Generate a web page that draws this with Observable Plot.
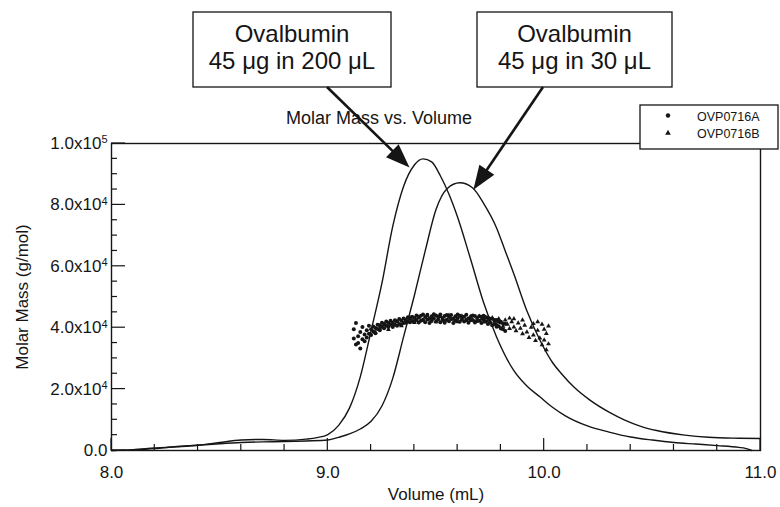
<!DOCTYPE html>
<html><head><meta charset="utf-8">
<script src="https://cdn.jsdelivr.net/npm/d3@7"></script>
<script src="https://cdn.jsdelivr.net/npm/@observablehq/plot@0.6"></script>
<style>
html,body{margin:0;padding:0;background:#fff;}
#chart{width:780px;height:507px;}
</style></head><body><div id="chart"></div>
<script>
// ---------- tick values ----------
const volumeTicks = [8, 9, 10, 11];
const volumeMinorTicks = [8.2, 8.4, 8.6, 8.8, 9.2, 9.4, 9.6, 9.8, 10.2, 10.4, 10.6, 10.8];
const massTicks = [0, 20000, 40000, 60000, 80000, 100000];
const massMinorTicks = [5000, 10000, 15000, 25000, 30000, 35000, 45000, 50000, 55000, 65000, 70000, 75000, 85000, 90000, 95000];

// ---------- signal traces (scaled to molar-mass axis) ----------
// Ovalbumin 45 µg in 200 µL (left peak)
const traceA_vol  = [8.00, 8.10, 8.20, 8.30, 8.40, 8.50, 8.60, 8.70, 8.80, 8.90, 8.95, 9.00, 9.05, 9.10, 9.15, 9.20, 9.25, 9.30, 9.35, 9.40, 9.44, 9.48, 9.52, 9.56, 9.60, 9.66, 9.72, 9.78, 9.86, 9.92, 9.98, 10.04, 10.10, 10.20, 10.30, 10.40, 10.50, 10.60, 10.70, 10.80, 10.90, 10.93, 10.96];
const traceA_mass = [0, 300, 800, 1200, 1700, 2600, 3400, 3600, 3300, 3700, 4200, 5200, 8200, 13800, 24000, 39000, 54500, 73000, 86000, 93000, 95000, 94000, 89500, 83500, 76000, 62300, 48200, 37000, 26000, 21000, 17500, 14000, 11200, 8000, 6000, 4400, 3400, 2600, 2100, 1600, 1000, 700, 0];
// Ovalbumin 45 µg in 30 µL (right peak)
const traceB_vol  = [8.00, 8.10, 8.20, 8.30, 8.40, 8.50, 8.60, 8.70, 8.80, 8.90, 9.00, 9.05, 9.10, 9.15, 9.20, 9.25, 9.30, 9.35, 9.40, 9.45, 9.50, 9.55, 9.61, 9.67, 9.72, 9.78, 9.82, 9.86, 9.92, 9.98, 10.04, 10.08, 10.14, 10.21, 10.30, 10.37, 10.45, 10.52, 10.65, 10.76, 10.90, 11.00];
const traceB_mass = [0, 200, 600, 1300, 1700, 2200, 2600, 2800, 2900, 3100, 3400, 4300, 5400, 7000, 9500, 14500, 23500, 37000, 50500, 65000, 78500, 85200, 87200, 85500, 80500, 72500, 65000, 57500, 45500, 36000, 28500, 25000, 20500, 16500, 12500, 10000, 7800, 6500, 5000, 4300, 4000, 3900];

// ---------- molar mass points ----------
const pointsA_vol = [9.12,9.12,9.13,9.13,9.14,9.14,9.15,9.15,9.16,9.16,9.17,9.17,9.18,9.18,9.19,9.19,9.20,9.20,9.21,9.21,9.22,9.22,9.23,9.23,9.24,9.24,9.25,9.25,9.26,9.26,9.27,9.27,9.28,9.28,9.29,9.29,
  9.30,9.30,9.31,9.31,9.32,9.32,9.33,9.33,9.34,9.34,9.35,9.35,9.36,9.36,9.37,9.37,9.38,9.38,9.39,9.39,9.40,9.40,
  9.41,9.41,9.42,9.42,9.43,9.43,9.44,9.44,9.45,9.45,9.46,9.46,9.47,9.47,9.48,9.48,9.49,9.49,9.50,9.50,9.51,9.51,9.52,9.52,9.53,9.53,9.54,9.54,9.55,9.55,9.56,9.56,9.57,9.57,9.58,9.58,9.59,9.59,9.60,9.60,9.61,9.61,
  9.62,9.62,9.63,9.63,9.64,9.64,9.65,9.65,9.66,9.66,9.67,9.67,9.68,9.68,9.69,9.69,9.70,9.70,9.71,9.71,9.72,9.72,9.73,9.73,9.74,9.74,9.75,9.75,9.76,9.76,9.77,9.77,9.78,9.78,9.79,9.79,9.80,9.80,9.81,9.81,9.82,9.82];
const pointsA_mass = [36500,39500,34500,41500,37200,35000,38600,33200,36200,40200,37800,35600,39200,36800,38000,40600,37600,39500,38800,40400,39900,38200,39600,41000,40800,39200,40300,41600,41200,39800,40600,42000,41500,40200,41000,42300,
  41600,40200,41000,42400,42000,40600,41200,42800,42300,41000,41500,43000,42600,41600,41900,43400,42900,41800,42200,43600,43200,42000,
  42500,44000,43300,41700,43900,42300,42600,44300,43500,41800,44200,42700,42900,41500,43700,42200,43100,44400,44000,42000,42700,43600,44300,41800,43200,42500,43800,41600,42600,44100,43500,42100,44100,42800,42900,41500,43700,42300,43100,44300,43900,41900,
  42700,43400,43600,42000,44200,42600,43000,41600,43500,42400,42500,44000,43800,41700,43200,42200,42300,43700,43600,41500,42800,43900,42100,43300,43300,41200,41700,42900,42900,40800,41200,42500,42500,40300,40500,41900,41900,39700,39500,41300,41300,38900];
const pointsB_vol = [9.22,9.24,9.26,9.28,9.30,9.32,9.34,9.36,9.38,9.40,9.42,9.44,9.46,9.48,9.50,9.52,9.54,9.56,9.58,9.60,9.62,9.64,9.66,9.68,9.70,9.71,9.72,9.73,9.74,9.75,9.76,9.77,9.78,9.79,9.80,9.81,9.82,9.83,9.84,9.85,9.86,9.87,9.88,9.89,9.90,9.91,9.92,9.93,9.94,9.95,9.96,9.97,9.98,9.99,10.00,10.00,10.01,10.01,10.02,10.02,9.95,9.97,9.99,9.90,9.86,9.84];
const pointsB_mass = [38500,39800,40900,39400,41200,42000,40600,42200,43200,41700,43400,42400,43900,42800,41900,43600,42200,44000,42800,41900,43800,42300,43600,42000,43700,42700,41800,43400,42400,41600,43200,42100,41000,42900,41600,40400,42500,41100,39700,41900,40200,39000,41500,39800,38000,40800,38600,36800,40100,37600,35800,39100,36600,34400,39500,36000,32800,38100,34700,40500,41300,41900,41100,42500,42900,43100];

const legendNames = ["OVP0716A", "OVP0716B"];
const calloutTitle = "Ovalbumin";
const calloutLines = ["45 \u03BCg in 200 \u03BCL", "45 \u03BCg in 30 \u03BCL"];
const arrowTargetVol = [9.38, 9.675];
const arrowTargetMass = [92000, 84800];

// ---------- tables ----------
const traceA = traceA_vol.map((v, i) => ({v, m: traceA_mass[i]}));
const traceB = traceB_vol.map((v, i) => ({v, m: traceB_mass[i]}));
const ptsA = pointsA_vol.map((v, i) => ({v, m: pointsA_mass[i]}));
const ptsB = pointsB_vol.map((v, i) => ({v, m: pointsB_mass[i]}));

const FONT = "'Liberation Sans', Arial, Helvetica, sans-serif";
const INK = "#151515";
const W = 780, H = 507, ML = 111, MR = 20, MT = 143, MB = 57;

const fmtMass = d => {
  if (d === 0) return "0.0";
  const e = Math.floor(Math.log10(d));
  return (d / Math.pow(10, e)).toFixed(1) + "x10^" + e;
};

const chart = Plot.plot({
  width: W, height: H,
  marginLeft: ML, marginRight: MR, marginTop: MT, marginBottom: MB,
  style: {fontFamily: FONT, fontSize: "17px", color: INK, background: "#fff"},
  x: {domain: [8, 11]},
  y: {domain: [0, 100000]},
  marks: [
    Plot.line(traceB, {x: "v", y: "m", stroke: INK, strokeWidth: 1.4, curve: "monotone-x"}),
    Plot.line(traceA, {x: "v", y: "m", stroke: INK, strokeWidth: 1.4, curve: "monotone-x"}),
    Plot.dot(ptsA, {x: "v", y: "m", r: 2, fill: INK, stroke: null}),
    Plot.dot(ptsB, {x: "v", y: "m", r: 1.8, symbol: "triangle", fill: INK, stroke: null}),
    Plot.frame({stroke: INK, strokeWidth: 1.4}),
    Plot.axisX({ticks: volumeTicks, tickSize: 0, tickPadding: 15, tickFormat: d => d.toFixed(1),
      label: "Volume (mL)", labelAnchor: "center", labelOffset: 49, labelArrow: "none"}),
    Plot.axisY({ticks: massTicks, tickSize: 0, tickPadding: 4, tickFormat: fmtMass,
      label: "Molar Mass (g/mol)", labelAnchor: "center", labelOffset: 96, labelArrow: "none"})
  ]
});
document.getElementById("chart").appendChild(chart);

const svg = d3.select(chart);
const xs = chart.scale("x"), ys = chart.scale("y");

// superscript exponents in y tick labels
svg.selectAll('g[aria-label="y-axis tick label"] text').each(function () {
  const t = d3.select(this);
  const s = t.text();
  const m = s.match(/^(.*x10)\^(\d+)$/);
  if (m) {
    t.text(null);
    t.append("tspan").text(m[1]);
    t.append("tspan").attr("dy", "-0.5em").attr("font-size", "11px").text(m[2]);
  }
});

// inward tick marks, placed through the chart's scales
const tickG = svg.append("g").attr("stroke", INK).attr("stroke-width", 1.2);
const y0 = ys.apply(0), x0 = xs.apply(8);
[[volumeMinorTicks, 6], [volumeTicks, 12]].forEach(([vals, len]) => {
  vals.forEach(v => {
    const px = xs.apply(v);
    tickG.append("line").attr("x1", px).attr("x2", px).attr("y1", y0).attr("y2", y0 - len);
  });
});
[[massMinorTicks, 6], [massTicks, 14]].forEach(([vals, len]) => {
  vals.forEach(v => {
    const py = ys.apply(v);
    tickG.append("line").attr("x1", x0).attr("x2", x0 + len).attr("y1", py).attr("y2", py);
  });
});

// ---------- annotations ----------
const ann = svg.append("g").attr("font-family", FONT).attr("fill", INK);

ann.append("text").attr("x", 379).attr("y", 124).attr("text-anchor", "middle")
  .attr("font-size", "18px").text("Molar Mass vs. Volume");

const boxes = [{x: 193, w: 198}, {x: 477, w: 195}];
const starts = [[327, 87], [543, 87]];
boxes.forEach((b, i) => {
  ann.append("rect").attr("x", b.x).attr("y", 12).attr("width", b.w).attr("height", 75)
    .attr("fill", "#fff").attr("stroke", INK).attr("stroke-width", 1.3);
  const cx = b.x + b.w / 2;
  ann.append("text").attr("x", cx).attr("y", 42).attr("text-anchor", "middle")
    .attr("font-size", "24px").text(calloutTitle);
  ann.append("text").attr("x", cx).attr("y", 69).attr("text-anchor", "middle")
    .attr("font-size", "24px").text(calloutLines[i]);
  // arrow
  const [sx, sy] = starts[i];
  const tx = xs.apply(arrowTargetVol[i]), ty = ys.apply(arrowTargetMass[i]);
  const dx = tx - sx, dy = ty - sy, L = Math.hypot(dx, dy);
  const ux = dx / L, uy = dy / L, head = 24, half = 9;
  const bx = tx - ux * head, by = ty - uy * head;
  ann.append("line").attr("x1", sx).attr("y1", sy).attr("x2", bx + ux * 2).attr("y2", by + uy * 2)
    .attr("stroke", INK).attr("stroke-width", 2.6);
  ann.append("polygon")
    .attr("points", `${tx},${ty} ${bx - uy * half},${by + ux * half} ${bx + uy * half},${by - ux * half}`)
    .attr("fill", INK);
});

// legend
ann.append("rect").attr("x", 640).attr("y", 105).attr("width", 138).attr("height", 44)
  .attr("fill", "#fff").attr("stroke", INK).attr("stroke-width", 1.3);
ann.append("circle").attr("cx", 668).attr("cy", 115.5).attr("r", 2.2);
ann.append("path").attr("d", d3.symbol(d3.symbolTriangle, 14)()).attr("transform", "translate(668,133)");
ann.append("text").attr("x", 697).attr("y", 120.5).attr("text-anchor", "start").attr("font-size", "12.5px").text(legendNames[0]);
ann.append("text").attr("x", 697).attr("y", 137.5).attr("text-anchor", "start").attr("font-size", "12.5px").text(legendNames[1]);
</script></body></html>
